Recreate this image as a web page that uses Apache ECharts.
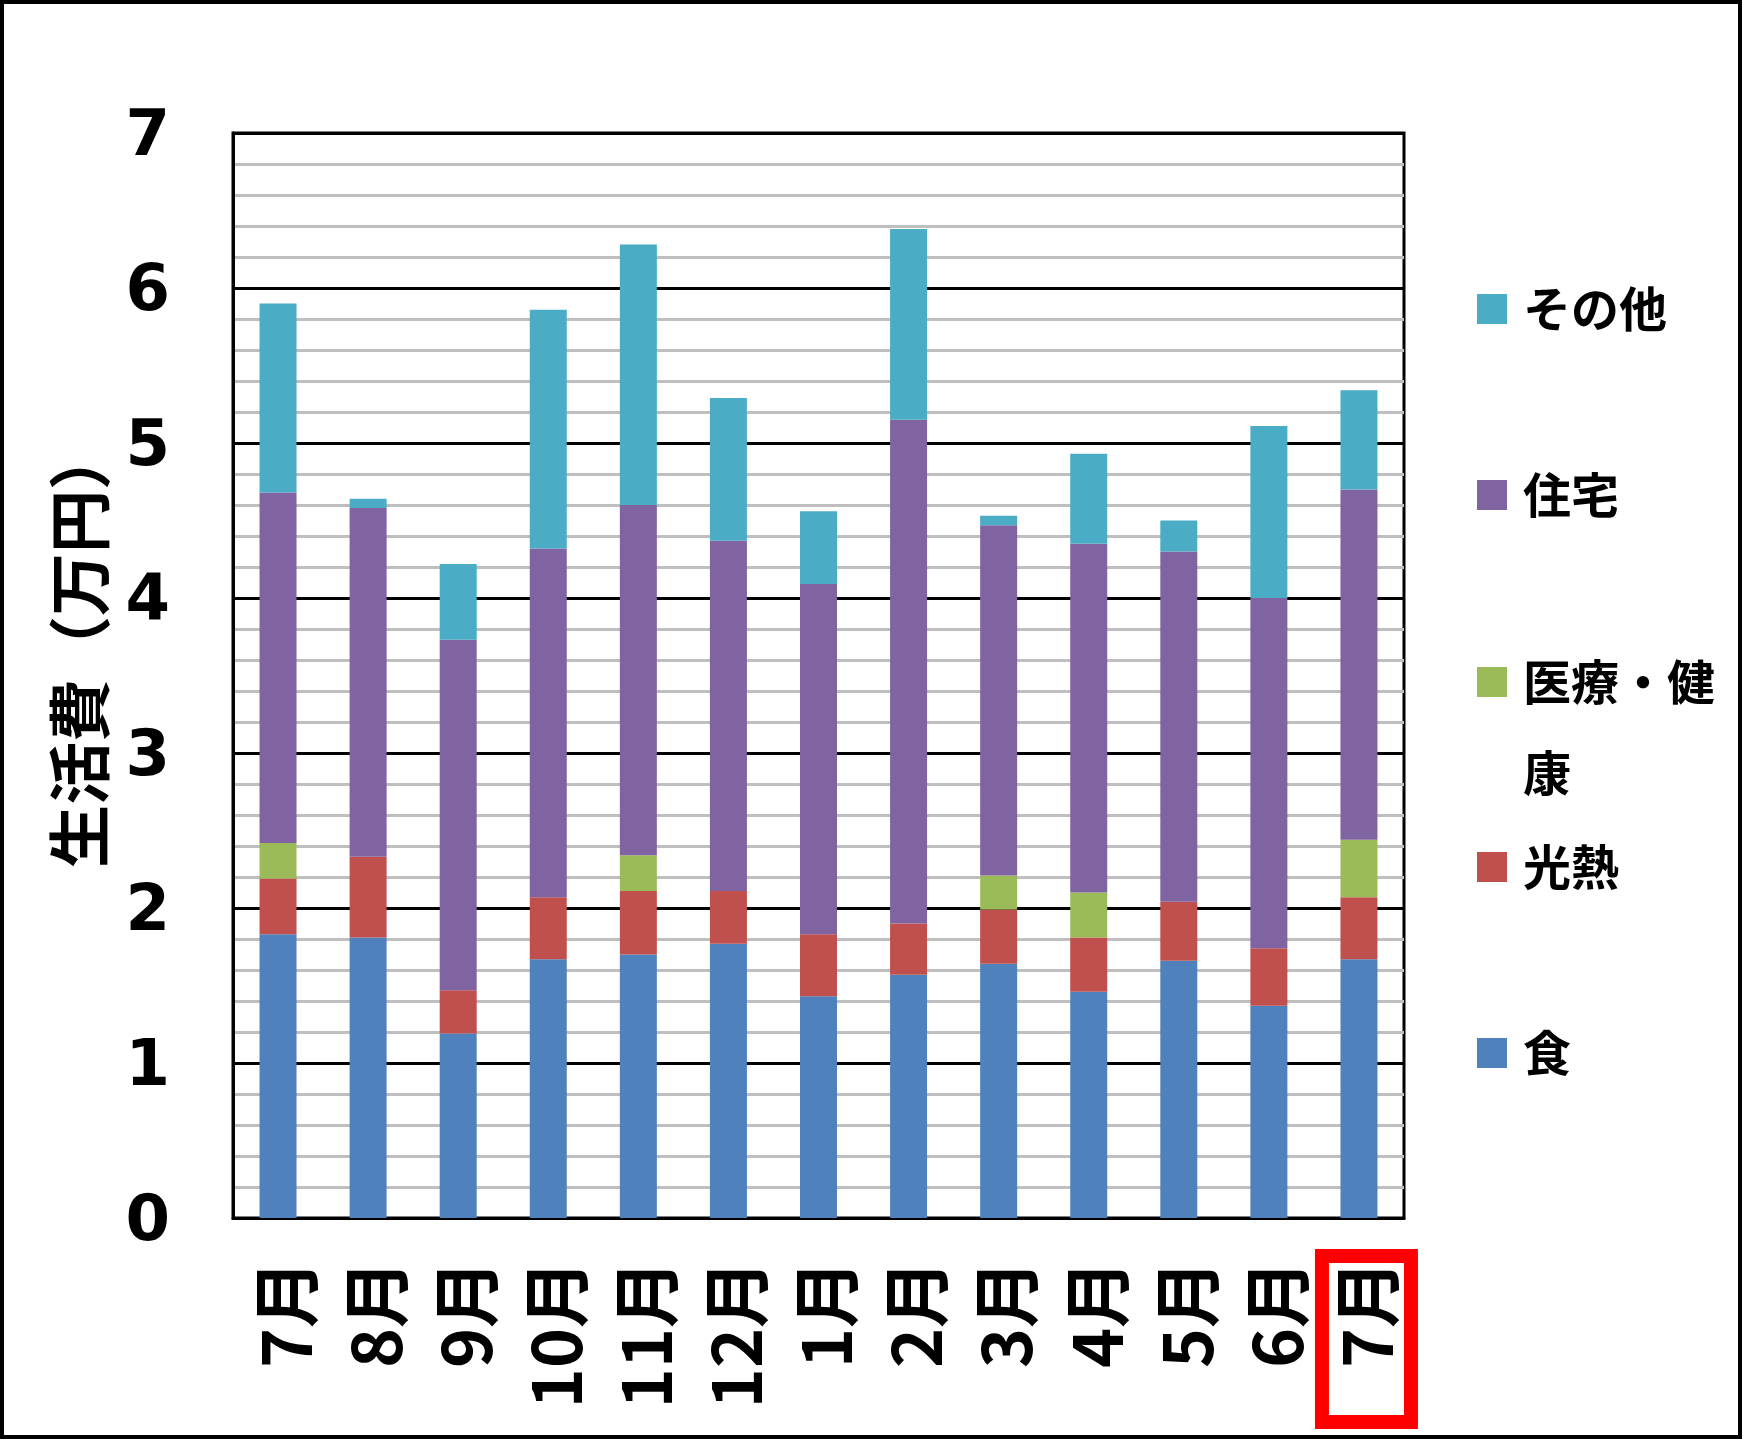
<!DOCTYPE html>
<html>
<head>
<meta charset="utf-8">
<script src="https://cdn.jsdelivr.net/npm/echarts@6/dist/echarts.min.js"></script>
<style>
html,body{margin:0;padding:0;background:#fff;}
#c{width:1743px;height:1441px;}
</style>
</head>
<body>
<div id="c"></div>
<script>
const months = ['7月','8月','9月','10月','11月','12月','1月','2月','3月','4月','5月','6月','7月'];
const food    = [1.83,1.81,1.19,1.67,1.70,1.77,1.43,1.57,1.64,1.46,1.66,1.37,1.67];
const utility = [0.36,0.52,0.28,0.40,0.41,0.34,0.40,0.33,0.35,0.35,0.38,0.37,0.40];
const medical = [0.23,0,0,0,0.23,0,0,0,0.22,0.29,0,0,0.37];
const housing = [2.26,2.25,2.26,2.25,2.26,2.26,2.26,3.25,2.26,2.25,2.26,2.26,2.26];
const other   = [1.22,0.06,0.49,1.54,1.68,0.92,0.47,1.23,0.06,0.58,0.20,1.11,0.64];
const yTicks  = [0,1,2,3,4,5,6,7];

const seriesNames = ['食','光熱','医療・健康','住宅','その他'];
const seriesData = [food, utility, medical, housing, other];
const colors = ['#4F81BD','#C0504D','#9BBB59','#8064A2','#4BACC6'];
const legendOrder = ['その他','住宅','医療・健康','光熱','食'];
const legendTops = [285, 471, 545.5, 843, 1029];

const cjk = '"Noto Sans CJK JP", "Noto Sans CJK SC", sans-serif';
const chart = echarts.init(document.getElementById('c'), null, {renderer:'canvas'});

const legends = legendOrder.map((name, i) => {
  const multi = name === '医療・健康';
  return {
    data: [name],
    orient: 'vertical',
    left: 1477,
    top: legendTops[i],
    padding: 0,
    itemWidth: 30,
    itemHeight: 30,
    icon: 'rect',
    selectedMode: false,
    formatter: n => multi ? ' \n医療・健\n康' : n,
    textStyle: {
      fontFamily: cjk, fontWeight: 'bold', fontSize: 48, color: '#000',
      lineHeight: multi ? 91 : 30,
      padding: [0,0,0,11]
    }
  };
});

const option = {
  animation: false,
  backgroundColor: '#fff',
  color: colors,
  grid: { left: 233, right: 339, top: 133, bottom: 223, show: true, borderColor: '#000', borderWidth: 3, containLabel: false },
  legend: legends,
  xAxis: {
    type: 'category',
    data: months,
    axisLine: { lineStyle: { color: '#000', width: 3 } },
    axisTick: { show: false },
    axisLabel: {
      interval: 0, rotate: 90, margin: 42,
      fontFamily: cjk, fontWeight: 'bold', fontSize: 68, color: '#000',
      lineHeight: 16,
      formatter: v => '\n' + v
    }
  },
  yAxis: {
    type: 'value',
    min: yTicks[0], max: yTicks[yTicks.length-1], interval: 1,
    name: '生活費（万円）',
    nameLocation: 'middle',
    nameGap: 122,
    nameTextStyle: { fontFamily: cjk, fontWeight: 'bold', fontSize: 63, color: '#000', padding: [0,0,0,56] },
    axisLine: { show: true, lineStyle: { color: '#000', width: 3 } },
    axisTick: { show: false },
    axisLabel: {
      margin: 63, fontFamily: '"DejaVu Sans", Verdana, sans-serif', fontWeight: 'bold', fontSize: 64, color: '#000',
      lineHeight: 10,
      formatter: v => '\n' + v
    },
    splitLine: { show: true, lineStyle: { color: '#000', width: 3 } },
    minorTick: { show: false, splitNumber: 5 },
    minorSplitLine: { show: true, lineStyle: { color: '#BFBFBF', width: 3 } }
  },
  series: seriesNames.map((n, i) => ({
    name: n,
    type: 'bar',
    stack: 'total',
    barWidth: 37,
    data: seriesData[i],
    itemStyle: { color: colors[i] }
  }))
};
chart.setOption(option);

function drawDecor() {
  const last = months.length - 1;
  const p0 = chart.convertToPixel({xAxisIndex: 0, yAxisIndex: 0}, [last, 0]);
  const cx = p0[0], by = p0[1];
  chart.setOption({
    graphic: [
      { type: 'rect', shape: { x: 2, y: 2, width: 1738, height: 1435 },
        style: { fill: 'none', stroke: '#000', lineWidth: 4 }, silent: true },
      { type: 'rect', shape: { x: cx - 37, y: by + 38, width: 89, height: 166 },
        style: { fill: 'none', stroke: '#FF0000', lineWidth: 14 }, silent: true }
    ]
  });
}
drawDecor();
</script>
</body>
</html>
